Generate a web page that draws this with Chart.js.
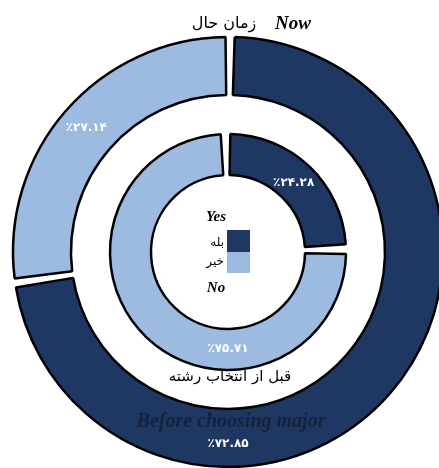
<!DOCTYPE html>
<html>
<head>
<meta charset="utf-8">
<script src="https://cdn.jsdelivr.net/npm/chart.js@4/dist/chart.umd.min.js"></script>
<style>
html,body{margin:0;padding:0;background:#fff;overflow:hidden;}
#wrap{width:439px;height:468px;overflow:hidden;position:relative;}
canvas{display:block;}
</style>
</head>
<body>
<div id="wrap"><canvas id="c" width="460" height="480"></canvas></div>
<script>
// ---- data ----
const categoriesFa = ['بله', 'خیر'];
const categoriesEn = ['Yes', 'No'];
const outerValues = [72.85, 27.14];   // outer ring
const innerValues = [24.28, 75.71];   // inner ring
const titleNowEn = 'Now';
const titleNowFa = 'زمان حال';
const titleBeforeEn = 'Before choosing major';
const titleBeforeFa = 'قبل از انتخاب رشته';
const segColors = ['#1f3763', '#9dbae0'];

function toFa(v) {
  const d = '۰۱۲۳۴۵۶۷۸۹';
  return v.toFixed(2).replace(/[0-9]/g, c => d[+c]);
}
function pct(v) { return '٪' + toFa(v); }

const FA = '"DejaVu Sans", sans-serif';
const EN = '"Liberation Serif", "DejaVu Serif", serif';

const overlay = {
  id: 'overlay',
  afterDatasetsDraw(chart) {
    const ctx = chart.ctx;
    const outer = chart.getDatasetMeta(0).data;
    const inner = chart.getDatasetMeta(2).data;
    const cx = outer[0].x, cy = outer[0].y;
    const pos = (arc, ang, frac) => {
      const r = arc.innerRadius + frac * (arc.outerRadius - arc.innerRadius);
      return [arc.x + Math.cos(ang) * r, arc.y + Math.sin(ang) * r];
    };
    const mid = a => (a.startAngle + a.endAngle) / 2;
    ctx.save();
    ctx.textAlign = 'center';
    ctx.textBaseline = 'middle';
    // percentage labels
    ctx.fillStyle = '#ffffff';
    ctx.font = 'bold 12px ' + FA;
    let p = pos(outer[1], mid(outer[1]), 0.58);
    ctx.fillText(pct(outerValues[1]), p[0], p[1]);
    p = pos(inner[0], mid(inner[0]), 0.5);
    ctx.fillText(pct(innerValues[0]), p[0], p[1]);
    p = pos(inner[1], Math.PI / 2, 0.55);
    ctx.fillText(pct(innerValues[1]), p[0], p[1]);
    p = pos(outer[0], Math.PI / 2, 0.64);
    ctx.fillText(pct(outerValues[0]), p[0], p[1]);
    // "Before choosing major" on outer ring
    p = pos(outer[0], Math.PI / 2, 0.26);
    ctx.fillStyle = '#16223d';
    ctx.font = 'bold italic 20px ' + EN;
    ctx.fillText(titleBeforeEn, p[0] + 3, p[1]);
    // Persian label between rings
    ctx.fillStyle = '#000';
    ctx.font = '15px ' + FA;
    ctx.fillText(titleBeforeFa, cx + 2, cy + 125);
    // top title
    ctx.font = '16px ' + FA;
    ctx.fillText(titleNowFa, cx - 4, 24);
    ctx.font = 'bold italic 19px ' + EN;
    ctx.fillText(titleNowEn, cx + 65, 24);
    // centre legend
    ctx.font = 'bold italic 15px ' + EN;
    ctx.fillText(categoriesEn[0], cx - 12, cy - 35);
    ctx.fillText(categoriesEn[1], cx - 12, cy + 36);
    ctx.fillStyle = segColors[0];
    ctx.fillRect(cx - 1, cy - 22, 23, 22);
    ctx.fillStyle = segColors[1];
    ctx.fillRect(cx - 1, cy, 23, 21);
    ctx.fillStyle = '#000';
    ctx.textAlign = 'right';
    ctx.font = '12px ' + FA;
    ctx.fillText(categoriesFa[0], cx - 4, cy - 9);
    ctx.fillText(categoriesFa[1], cx - 4, cy + 10);
    ctx.restore();
  }
};

new Chart(document.getElementById('c'), {
  type: 'doughnut',
  data: {
    labels: categoriesEn,
    datasets: [
      { label: titleNowEn, data: outerValues, backgroundColor: segColors,
        borderColor: '#000', borderWidth: 2.5, spacing: 5, weight: 58 },
      { label: 'spacer', data: [1], backgroundColor: 'rgba(0,0,0,0)',
        borderWidth: 0, spacing: 0, weight: 39 },
      { label: titleBeforeEn, data: innerValues, backgroundColor: segColors,
        borderColor: '#000', borderWidth: 2.5, spacing: 5, weight: 41 }
    ]
  },
  options: {
    responsive: false,
    animation: false,
    cutout: '35.06%',
    spacing: 5,
    layout: { padding: { left: 11.75, top: 35.75, right: 15.75, bottom: 11.75 } },
    plugins: { legend: { display: false }, tooltip: { enabled: false } }
  },
  plugins: [overlay]
});
</script>
</body>
</html>
